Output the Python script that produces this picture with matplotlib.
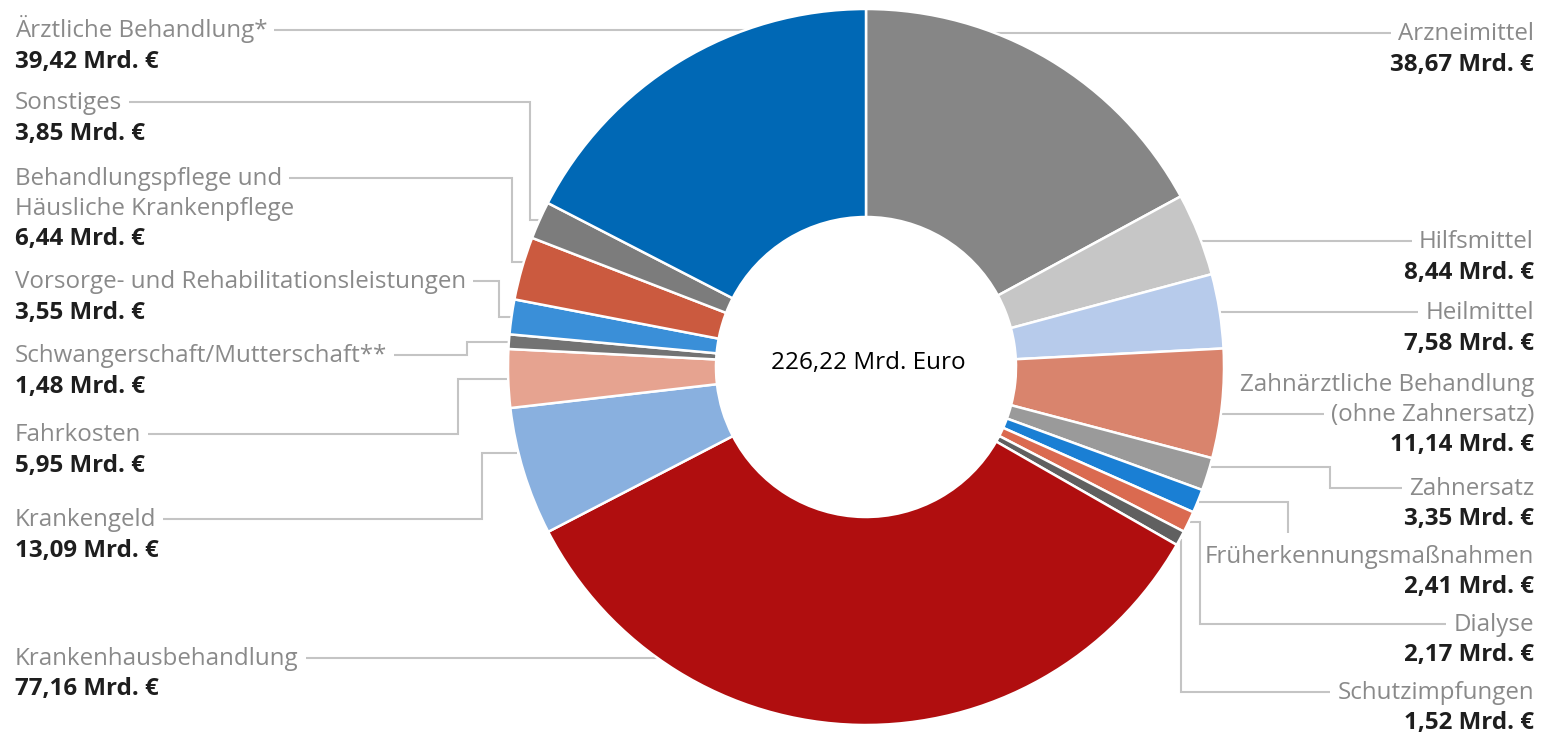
import numpy as np
import matplotlib
matplotlib.use('Agg')
import matplotlib.pyplot as plt

# ---------------- data ----------------
categories = [
    'Arzneimittel',
    'Hilfsmittel',
    'Heilmittel',
    'Zahnärztliche Behandlung\n(ohne Zahnersatz)',
    'Zahnersatz',
    'Früherkennungsmaßnahmen',
    'Dialyse',
    'Schutzimpfungen',
    'Krankenhausbehandlung',
    'Krankengeld',
    'Fahrkosten',
    'Schwangerschaft/Mutterschaft**',
    'Vorsorge- und Rehabilitationsleistungen',
    'Behandlungspflege und\nHäusliche Krankenpflege',
    'Sonstiges',
    'Ärztliche Behandlung*',
]
values = [38.67, 8.44, 7.58, 11.14, 3.35, 2.41, 2.17, 1.52,
          77.16, 13.09, 5.95, 1.48, 3.55, 6.44, 3.85, 39.42]
colors = ['#868686', '#c6c6c6', '#b7cbeb', '#d9846d', '#9a9a9a', '#1a7fd4',
          '#da6a50', '#606060', '#b00e0f', '#89b0df', '#e6a390', '#737373',
          '#3a8fd8', '#cb5a3f', '#7c7c7c', '#0068b5']
total_label = '226,22 Mrd. Euro'

# ---------------- layout (pixels, y downward) ----------------
W, H = 1541, 735
CX, CY = 866, 367
R, RIN = 358, 150
LS = 29.5        # line spacing between text lines
# side, baseline of first name line, leader kind, elbow x, attach fraction, anchor line
layout = {
    'Arzneimittel':                 ('R', 40,  'straight', None, 0.5, 0),
    'Hilfsmittel':                  ('R', 248, 'straight', None, 0.5, 0),
    'Heilmittel':                   ('R', 319, 'straight', None, 0.5, 0),
    'Zahnärztliche Behandlung\n(ohne Zahnersatz)': ('R', 391, 'straight', None, 0.5, 1),
    'Zahnersatz':                   ('R', 495, 'elbow', 1330, 0.25, 0),
    'Früherkennungsmaßnahmen':      ('R', 563, 'drop', 1288, 0.5, 0),
    'Dialyse':                      ('R', 631, 'elbow', 1200, 0.5, 0),
    'Schutzimpfungen':              ('R', 699, 'elbow', None, 0.5, 0),
    'Krankenhausbehandlung':        ('L', 665, 'straight', None, 0.5, 0),
    'Krankengeld':                  ('L', 526, 'elbow', 482, 0.65, 0),
    'Fahrkosten':                   ('L', 441, 'elbow', 458, 0.5, 0),
    'Schwangerschaft/Mutterschaft**': ('L', 362, 'elbow', 467, 0.5, 0),
    'Vorsorge- und Rehabilitationsleistungen': ('L', 288, 'elbow', 499, 0.5, 0),
    'Behandlungspflege und\nHäusliche Krankenpflege': ('L', 185, 'elbow', 512, 0.6, 0),
    'Sonstiges':                    ('L', 109, 'elbow', 530, 0.5, 0),
    'Ärztliche Behandlung*':        ('L', 37,  'straight', None, 0.5, 0),
}
XL, XR = 15, 1534
NAME_COLOR = '#8a8a8a'
VALUE_COLOR = '#1e1e1e'
LINE_COLOR = '#c4c4c4'
FONT = ['Open Sans', 'DejaVu Sans']
FS = 17.4

fig = plt.figure(figsize=(W / 100, H / 100), dpi=100)
ax = fig.add_axes([0, 0, 1, 1])
ax.pie(values, colors=colors, startangle=90, counterclock=False, radius=R,
       center=(CX, H - CY),
       wedgeprops=dict(width=R - RIN, edgecolor='white', linewidth=1.8))
ax.set_xlim(0, W)
ax.set_ylim(0, H)
ax.set_aspect('equal')
ax.axis('off')

ax.text(CX + 2, H - 363, total_label, ha='center', va='center',
        fontsize=17.5, color='black', family=FONT)

total = float(np.sum(values))
cum = np.cumsum(values)
starts = (cum - np.array(values)) / total * 360.0
ends = cum / total * 360.0

texts = {}
for cat, val in zip(categories, values):
    side, base, kind, ex, frac, li = layout[cat]
    x = XL if side == 'L' else XR
    ha = 'left' if side == 'L' else 'right'
    objs = []
    lines = cat.split('\n')
    for i, ln in enumerate(lines):
        t = ax.text(x, H - (base + i * LS), ln, ha=ha, va='baseline',
                    fontsize=FS, color=NAME_COLOR, family=FONT)
        objs.append(t)
    vstr = f'{val:.2f}'.replace('.', ',') + ' Mrd. €'
    ax.text(x, H - (base + len(lines) * LS + 1), vstr, ha=ha, va='baseline',
            fontsize=FS, color=VALUE_COLOR, family=FONT, weight='bold')
    texts[cat] = objs

fig.canvas.draw()
renderer = fig.canvas.get_renderer()

for k, (cat, val) in enumerate(zip(categories, values)):
    side, base, kind, ex, frac, li = layout[cat]
    t = texts[cat][li]
    bb = t.get_window_extent(renderer)
    ly = base + li * LS - 7
    x0 = bb.x1 + 7 if side == 'L' else bb.x0 - 7
    sgn = -1 if side == 'L' else 1
    ang = np.deg2rad(starts[k] + frac * (ends[k] - starts[k]))
    px = CX + (R + 1) * np.sin(ang)
    py = CY - (R + 1) * np.cos(ang)
    if kind == 'straight':
        x1 = CX + sgn * np.sqrt(max(R ** 2 - (ly - CY) ** 2, 0))
        pts = [(x0, ly), (x1, ly)]
    elif kind == 'elbow':
        e = px if ex is None else ex
        pts = [(x0, ly), (e, ly), (e, py), (px, py)]
    else:  # drop: from wedge horizontally, then down to label
        top = base - 30
        pts = [(px, py), (ex, py), (ex, top)]
    xs = [p[0] for p in pts]
    ys = [H - p[1] for p in pts]
    ax.plot(xs, ys, color=LINE_COLOR, lw=1.5, solid_joinstyle='miter',
            solid_capstyle='butt', zorder=0)

fig.savefig('out.png', dpi=100)
